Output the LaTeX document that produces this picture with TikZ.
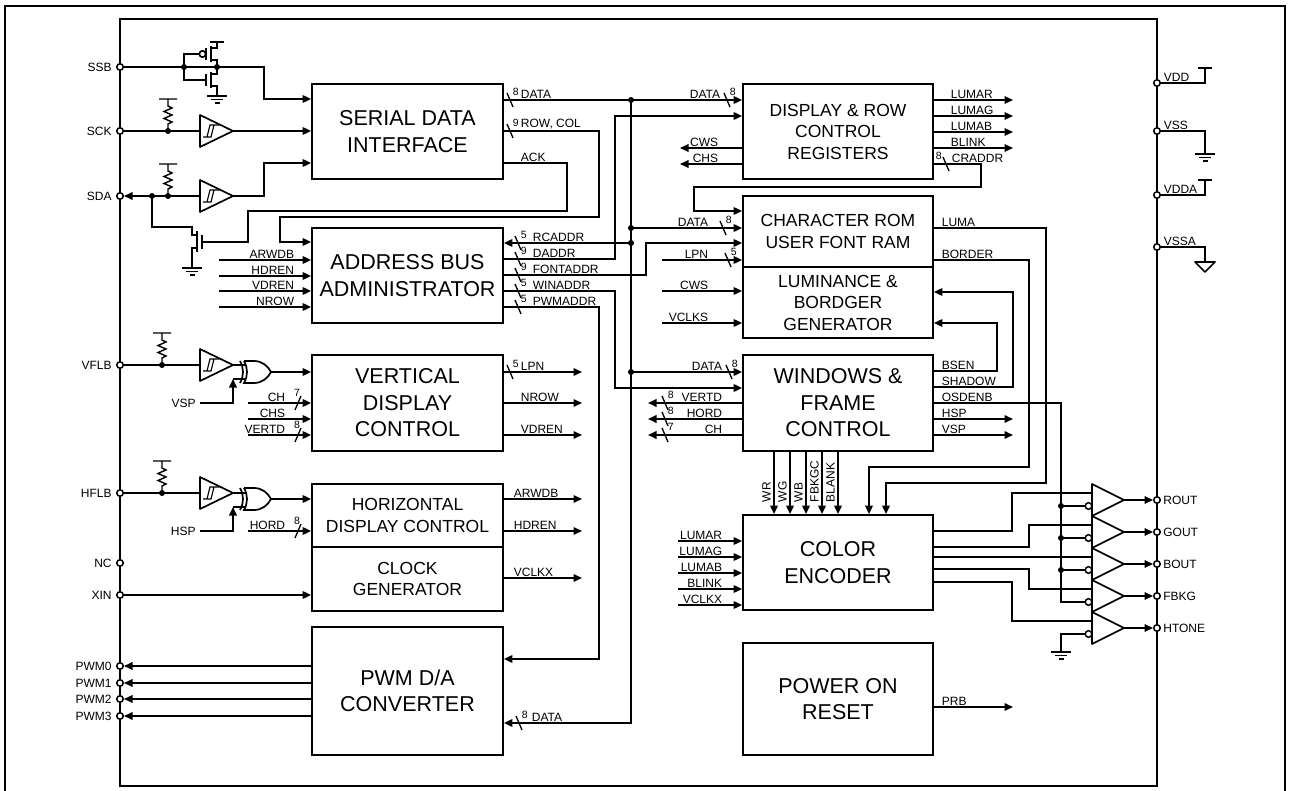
\documentclass[tikz,border=0pt]{standalone}
\usepackage{fontspec}
\setmainfont{Liberation Sans}
\usetikzlibrary{arrows.meta,positioning}

\tikzset{
  >={Triangle[length=8.5pt,width=7.5pt]},
  blk/.style={draw,rectangle,inner sep=0pt,align=center,minimum width=191pt,font=\fontsize{21.5}{26.5}\selectfont},
  mid/.style={font=\fontsize{17.5}{21.5}\selectfont},
  pin/.style={draw,circle,fill=white,inner sep=0pt,minimum size=6.5pt,line width=1.5pt},
  pinlab/.style={font=\fontsize{12}{14}\selectfont,inner sep=1.5pt},
  lab/.style={font=\fontsize{12}{14}\selectfont,inner sep=1pt,anchor=south west},
  labr/.style={lab,anchor=south east},
  num/.style={font=\fontsize{10.5}{12}\selectfont,inner sep=0.5pt,anchor=south west},
  vlab/.style={lab,rotate=90},
}
\newcommand{\busmark}[3]{\draw[line width=1.3pt] (#1-3,#2-7) -- (#1+3,#2+7);
  \node[num] at (#1+1.5,#2-3) {#3};}
\newcommand{\busmarkup}[3]{\draw[line width=1.3pt] (#1-3,#2+7) -- (#1+3,#2-7);
  \node[num,anchor=south] at (#1-1,#2-5) {#3};}
\newcommand{\gndsym}[2]{\draw[line width=1.4pt] (#1-10,#2) -- (#1+10,#2)
  (#1-6,#2+3.5) -- (#1+6,#2+3.5) (#1-2.5,#2+7) -- (#1+2.5,#2+7);}
\newcommand{\pullup}[2]{\draw[line width=1.4pt] (#1,#2) -- (#1,#2-7) -- (#1+4,#2-9)
  -- (#1-4,#2-12.5) -- (#1+4,#2-16) -- (#1-4,#2-19.5) -- (#1+4,#2-23) -- (#1,#2-25)
  -- (#1,#2-32) (#1-9,#2-32) -- (#1+9,#2-32);
  \fill (#1,#2) circle (3);}
\newcommand{\schmitt}[2]{\draw[line join=round] (#1,#2-16) -- (#1+33,#2) -- (#1,#2+16) -- cycle;
  \draw[line width=1.2pt] (#1+3,#2+6) -- (#1+11,#2+6) -- (#1+14,#2-6) -- (#1+19,#2-6)
  (#1+7,#2+6) -- (#1+10,#2-6) -- (#1+14,#2-6);}
\newcommand{\xorgate}[2]{\draw (#1+4,#2-11) -- (#1+14,#2-11) .. controls (#1+22,#2-11) and (#1+28,#2-6) .. (#1+31,#2)
  .. controls (#1+28,#2+6) and (#1+22,#2+11) .. (#1+14,#2+11) -- (#1+4,#2+11)
  .. controls (#1+8,#2+4) and (#1+8,#2-4) .. (#1+4,#2-11);
  \draw (#1,#2-11) .. controls (#1+4,#2-4) and (#1+4,#2+4) .. (#1,#2+11);}

\begin{document}
\begin{tikzpicture}[x=1pt,y=-1pt,line width=1.7pt]
\useasboundingbox (0,0) rectangle (1290,791);
\draw (5,800) -- (5,6) -- (1285,6) -- (1285,800);
\draw (120,19) rectangle (1157,786);

% blocks
\node[blk,minimum height=95pt] (sdi) at (407.5,131.5) {SERIAL DATA\\INTERFACE};
\node[blk,minimum height=95pt] (aba) at (407.5,275.5) {ADDRESS BUS\\ADMINISTRATOR};
\node[blk,minimum height=96pt] (vdc) at (407.5,403) {VERTICAL\\DISPLAY\\CONTROL};
\node[blk,mid,minimum height=63pt] (hdc) at (407.5,515.5) {HORIZONTAL\\DISPLAY CONTROL};
\node[blk,mid,minimum height=64pt] (clk) [below=-1.7pt of hdc] {CLOCK\\GENERATOR};
\node[blk,minimum height=128pt] (pwm) at (407.5,691) {PWM D/A\\CONVERTER};
\node[blk,mid,minimum width=190pt,minimum height=95pt] (drc) at (838,131.5) {DISPLAY \& ROW\\CONTROL\\REGISTERS};
\node[blk,mid,minimum width=190pt,minimum height=71pt] (chr) at (838,231.5) {CHARACTER ROM\\USER FONT RAM};
\node[blk,mid,minimum width=190pt,minimum height=71pt] (lum) [below=-1.7pt of chr] {LUMINANCE \&\\BORDGER\\GENERATOR};
\node[blk,minimum width=190pt,minimum height=96pt] (wfc) at (838,403) {WINDOWS \&\\FRAME\\CONTROL};
\node[blk,minimum width=190pt,minimum height=95pt] (enc) at (838,562.5) {COLOR\\ENCODER};
\node[blk,minimum width=190pt,minimum height=112pt] (por) at (838,699) {POWER ON\\RESET};

% pins
\foreach \nm/\yy/\tx in {ssb/67/SSB,sck/131/SCK,sda/196/SDA,vflb/365/VFLB,hflb/493/HFLB,nc/563/NC,
    xin/595/XIN,pwma/666/PWM0,pwmb/683/PWM1,pwmc/699/PWM2,pwmd/716/PWM3}
  \node[pin,label={[pinlab,label distance=2pt]left:\tx}] (\nm) at (120,\yy) {};
\foreach \nm/\yy/\tx in {rout/500/ROUT,gout/532/GOUT,bout/564/BOUT,fbkg/596/FBKG,htone/628/HTONE}
  \node[pin,label={[pinlab]right:\tx}] (\nm) at (1157,\yy) {};
\foreach \nm/\yy in {vdd/83,vss/131,vdda/195,vssa/247}
  \node[pin] (\nm) at (1157,\yy) {};

% serial inputs
\draw[->] (ssb) -| (264,99) -- (sdi.west |- 0,99);
\draw (184,67) |- (199,54);
\draw (202.5,54) circle (3.2);
\draw (206,48) -- (206,60) (211,46) -- (211,62);
\draw (211,48) -| (217,42) (210,42) -- (224,42) (211,60) -| (217,67);
\draw (184,67) |- (206,80);
\draw (206,74) -- (206,86) (211,72) -- (211,88);
\draw (211,74) -| (217,67) (211,86) -| (217,96);
\gndsym{217}{96}
\fill (184,67) circle (3) (217,67) circle (3);
\draw (sck) -- (200,131);
\schmitt{200}{131}
\draw[->] (233,131) -- (sdi.west |- 0,131);
\pullup{168}{131}
\draw[->] (200,196) -- (sda);
\schmitt{200}{196}
\draw[->] (233,196) -| (264,163) -- (sdi.west |- 0,163);
\pullup{168}{196}
\fill (152,196) circle (3);
\draw (152,196) |- (192,227) -- (192,235) -- (197,235);
\draw (197,231) -- (197,252) (202,235) -- (202,249);
\draw (197,248) -- (192,248) -- (192,268);
\gndsym{192}{268}

% serial outputs
\draw[->] (sdi.east |- 0,100) -- (drc.west |- 0,100);
\busmark{510}{100}{8} \node[lab] at (519,100) {DATA};
\draw[->] (sdi.east |- 0,131) -| (599,217) -| (280,242) -- (aba.west |- 0,242);
\busmark{510}{131}{9} \node[lab] at (519,131) {ROW, COL};
\draw (sdi.east |- 0,163) -| (567,211) -| (248,242) -- (202,242);
\node[lab] at (519,163) {ACK};

% data bus
\draw[->] (631,100) |- (pwm.east |- 0,723);
\busmark{519}{723}{8} \node[lab] at (530,723) {DATA};
\foreach \yy in {100,228,243,372} \fill (631,\yy) circle (3);
\draw[->] (631,228) -- (chr.west |- 0,228);
\busmark{723}{228}{8} \node[labr] at (710,228) {DATA};
\draw[->] (631,372) -- (wfc.west |- 0,372);
\busmark{729}{372}{8} \node[labr] at (724,372) {DATA};
\busmark{727}{100}{8} \node[labr] at (722,100) {DATA};

% address bus administrator
\foreach \yy/\tx in {260/ARWDB,276/HDREN,291/VDREN,307/NROW} {
  \draw[->] (219,\yy) -- (aba.west |- 0,\yy);
  \node[labr] at (296,\yy) {\tx};
}
\draw[->] (631,243) -- (aba.east |- 0,243);
\draw[->] (aba.east |- 0,259) -| (615,116) -- (drc.west |- 0,116);
\draw[->] (aba.east |- 0,275) -| (646,243) -- (chr.west |- 0,243);
\draw[->] (aba.east |- 0,291) -| (615,388) -- (wfc.west |- 0,388);
\draw[->] (aba.east |- 0,307) -| (599,659) -- (pwm.east |- 0,659);
\foreach \yy/\n/\tx in {243/5/RCADDR,259/9/DADDR,275/9/FONTADDR,291/5/WINADDR,307/5/PWMADDR} {
  \busmark{518}{\yy}{\n}
  \node[lab] at (531,\yy) {\tx};
}

% vertical display control
\draw (vflb) -- (200,365);
\pullup{162}{365}
\schmitt{200}{365}
\xorgate{240}{372}
\draw (233,365) -- (246,365);
\draw[->] (200,403) -| (233,379);
\draw (233,379) -- (246,379);
\node[pinlab,anchor=east] at (198,403) {VSP};
\draw[->] (271,372) -- (vdc.west |- 0,372);
\foreach \yy/\tx in {403/CH,419/CHS,435/VERTD} {
  \draw[->] (248,\yy) -- (vdc.west |- 0,\yy);
  \node[labr] at (287,\yy) {\tx};
}
\busmarkup{298}{403}{7}
\busmarkup{298}{435}{8}
\draw[->] (vdc.east |- 0,372) -- (582,372);
\busmark{510}{372}{5} \node[lab] at (519,372) {LPN};
\draw[->] (vdc.east |- 0,403) -- (582,403); \node[lab] at (519,403) {NROW};
\draw[->] (vdc.east |- 0,435) -- (582,435); \node[lab] at (519,435) {VDREN};

% horizontal display control and clock
\draw (hflb) -- (200,493);
\pullup{162}{493}
\schmitt{200}{493}
\xorgate{240}{499}
\draw (233,493) -- (246,493);
\draw[->] (200,531) -| (233,507);
\draw (233,507) -- (246,507);
\node[pinlab,anchor=east] at (198,531) {HSP};
\draw[->] (271,499) -- (hdc.west |- 0,499);
\draw[->] (248,531) -- (hdc.west |- 0,531);
\node[labr] at (287,531) {HORD};
\busmarkup{298}{531}{8}
\draw[->] (hdc.east |- 0,499) -- (582,499); \node[lab] at (512,499) {ARWDB};
\draw[->] (hdc.east |- 0,531) -- (582,531); \node[lab] at (512,531) {HDREN};
\draw[->] (clk.east |- 0,578) -- (582,578); \node[lab] at (512,578) {VCLKX};
\draw[->] (xin) -- (clk.west |- 0,595);

% pwm outputs
\foreach \p/\yy in {pwma/666,pwmb/683,pwmc/699,pwmd/716}
  \draw[->] (pwm.west |- 0,\yy) -- (\p);

% display & row control registers
\draw[->] (drc.west |- 0,148) -- (680,148); \node[labr] at (720,148) {CWS};
\draw[->] (drc.west |- 0,164) -- (680,164); \node[labr] at (720,164) {CHS};
\foreach \yy/\tx in {100/LUMAR,116/LUMAG,132/LUMAB,148/BLINK} {
  \draw[->] (drc.east |- 0,\yy) -- (1013,\yy);
  \node[lab] at (949,\yy) {\tx};
}
\draw[->] (drc.east |- 0,164) -| (981,187) -| (694,211) -- (chr.west |- 0,211);
\draw[line width=1.3pt] (943,157) -- (949,171);
\node[num,anchor=south east] at (943,161) {8};
\node[lab] at (950,164) {CRADDR};

% character rom, luminance
\draw[->] (662,260) -- (chr.west |- 0,260);
\busmark{728}{260}{5} \node[labr] at (710,260) {LPN};
\draw[->] (662,291) -- (lum.west |- 0,291); \node[labr] at (710,291) {CWS};
\draw[->] (662,323) -- (lum.west |- 0,323); \node[labr] at (710,323) {VCLKS};
\draw[->] (chr.east |- 0,228) -| (1046,483) -| (enc.north -| 886,0);
\node[lab] at (940,228) {LUMA};
\draw[->] (chr.east |- 0,260) -| (1029,467) -| (enc.north -| 869,0);
\node[lab] at (940,260) {BORDER};

% windows & frame control
\draw[->] (wfc.east |- 0,371) -| (997,323) -- (lum.east |- 0,323);
\draw[->] (wfc.east |- 0,387) -| (1013,292) -- (lum.east |- 0,292);
\draw (wfc.east |- 0,403) -| (1061,602) -- (1085,602);
\draw[->] (wfc.east |- 0,419) -- (1013,419);
\draw[->] (wfc.east |- 0,435) -- (1013,435);
\foreach \yy/\tx in {371/BSEN,387/SHADOW,403/OSDENB,419/HSP,435/VSP}
  \node[lab] at (940,\yy) {\tx};
\foreach \yy/\n/\tx in {403/8/VERTD,419/8/HORD,435/7/CH} {
  \draw[->] (wfc.west |- 0,\yy) -- (648,\yy);
  \busmark{665}{\yy}{\n}
  \node[labr] at (724,\yy) {\tx};
}
\foreach \xx/\tx in {774/WR,790/WG,806/WB,822/FBKGC,838/BLANK} {
  \draw[->] (wfc.south -| \xx,0) -- (enc.north -| \xx,0);
  \node[vlab] at (\xx-1.5,504) {\tx};
}

% color encoder
\foreach \yy/\tx in {541/LUMAR,557/LUMAG,573/LUMAB,589/BLINK,605/VCLKX} {
  \draw[->] (678,\yy) -- (enc.west |- 0,\yy);
  \node[labr] at (724,\yy) {\tx};
}
\draw (enc.east |- 0,531) -| (1012,493) -- (1092,493);
\draw (enc.east |- 0,547) -| (1029,525) -- (1092,525);
\draw (enc.east |- 0,557) -- (1092,557);
\draw (enc.east |- 0,569) -| (1029,589) -- (1092,589);
\draw (enc.east |- 0,582) -| (1012,621) -- (1092,621);

% output buffers
\foreach \k/\pn in {0/rout,1/gout,2/bout,3/fbkg,4/htone} {
  \pgfmathsetmacro\tp{484+32*\k}
  \draw[line join=round] (1092,\tp) -- (1124,\tp+16) -- (1092,\tp+32) -- cycle;
  \draw[line width=1.5pt] (1088.5,\tp+22) circle (3.3);
  \draw[->] (1124,\tp+16) -- (\pn);
}
\foreach \yy in {506,538,570} {
  \draw (1061,\yy) -- (1085,\yy);
  \fill (1061,\yy) circle (3);
}
\draw (1085,634) -| (1061,652);
\gndsym{1061}{652}

% power on reset
\draw[->] (por.east |- 0,707) -- (1013,707);
\node[lab] at (940,707) {PRB};

% supply pins
\draw (vdd) -| (1205,68);
\draw (1198,68) -- (1212,68);
\node[lab] at (1162,83) {VDD};
\draw (vss) -| (1205,154);
\gndsym{1205}{154}
\node[lab] at (1162,131) {VSS};
\draw (vdda) -| (1205,180);
\draw (1198,180) -- (1212,180);
\node[lab] at (1162,195) {VDDA};
\draw (vssa) -| (1205,262);
\draw[line join=round] (1195,262) -- (1215,262) -- (1205,272) -- cycle;
\node[lab] at (1162,247) {VSSA};
\end{tikzpicture}
\end{document}
